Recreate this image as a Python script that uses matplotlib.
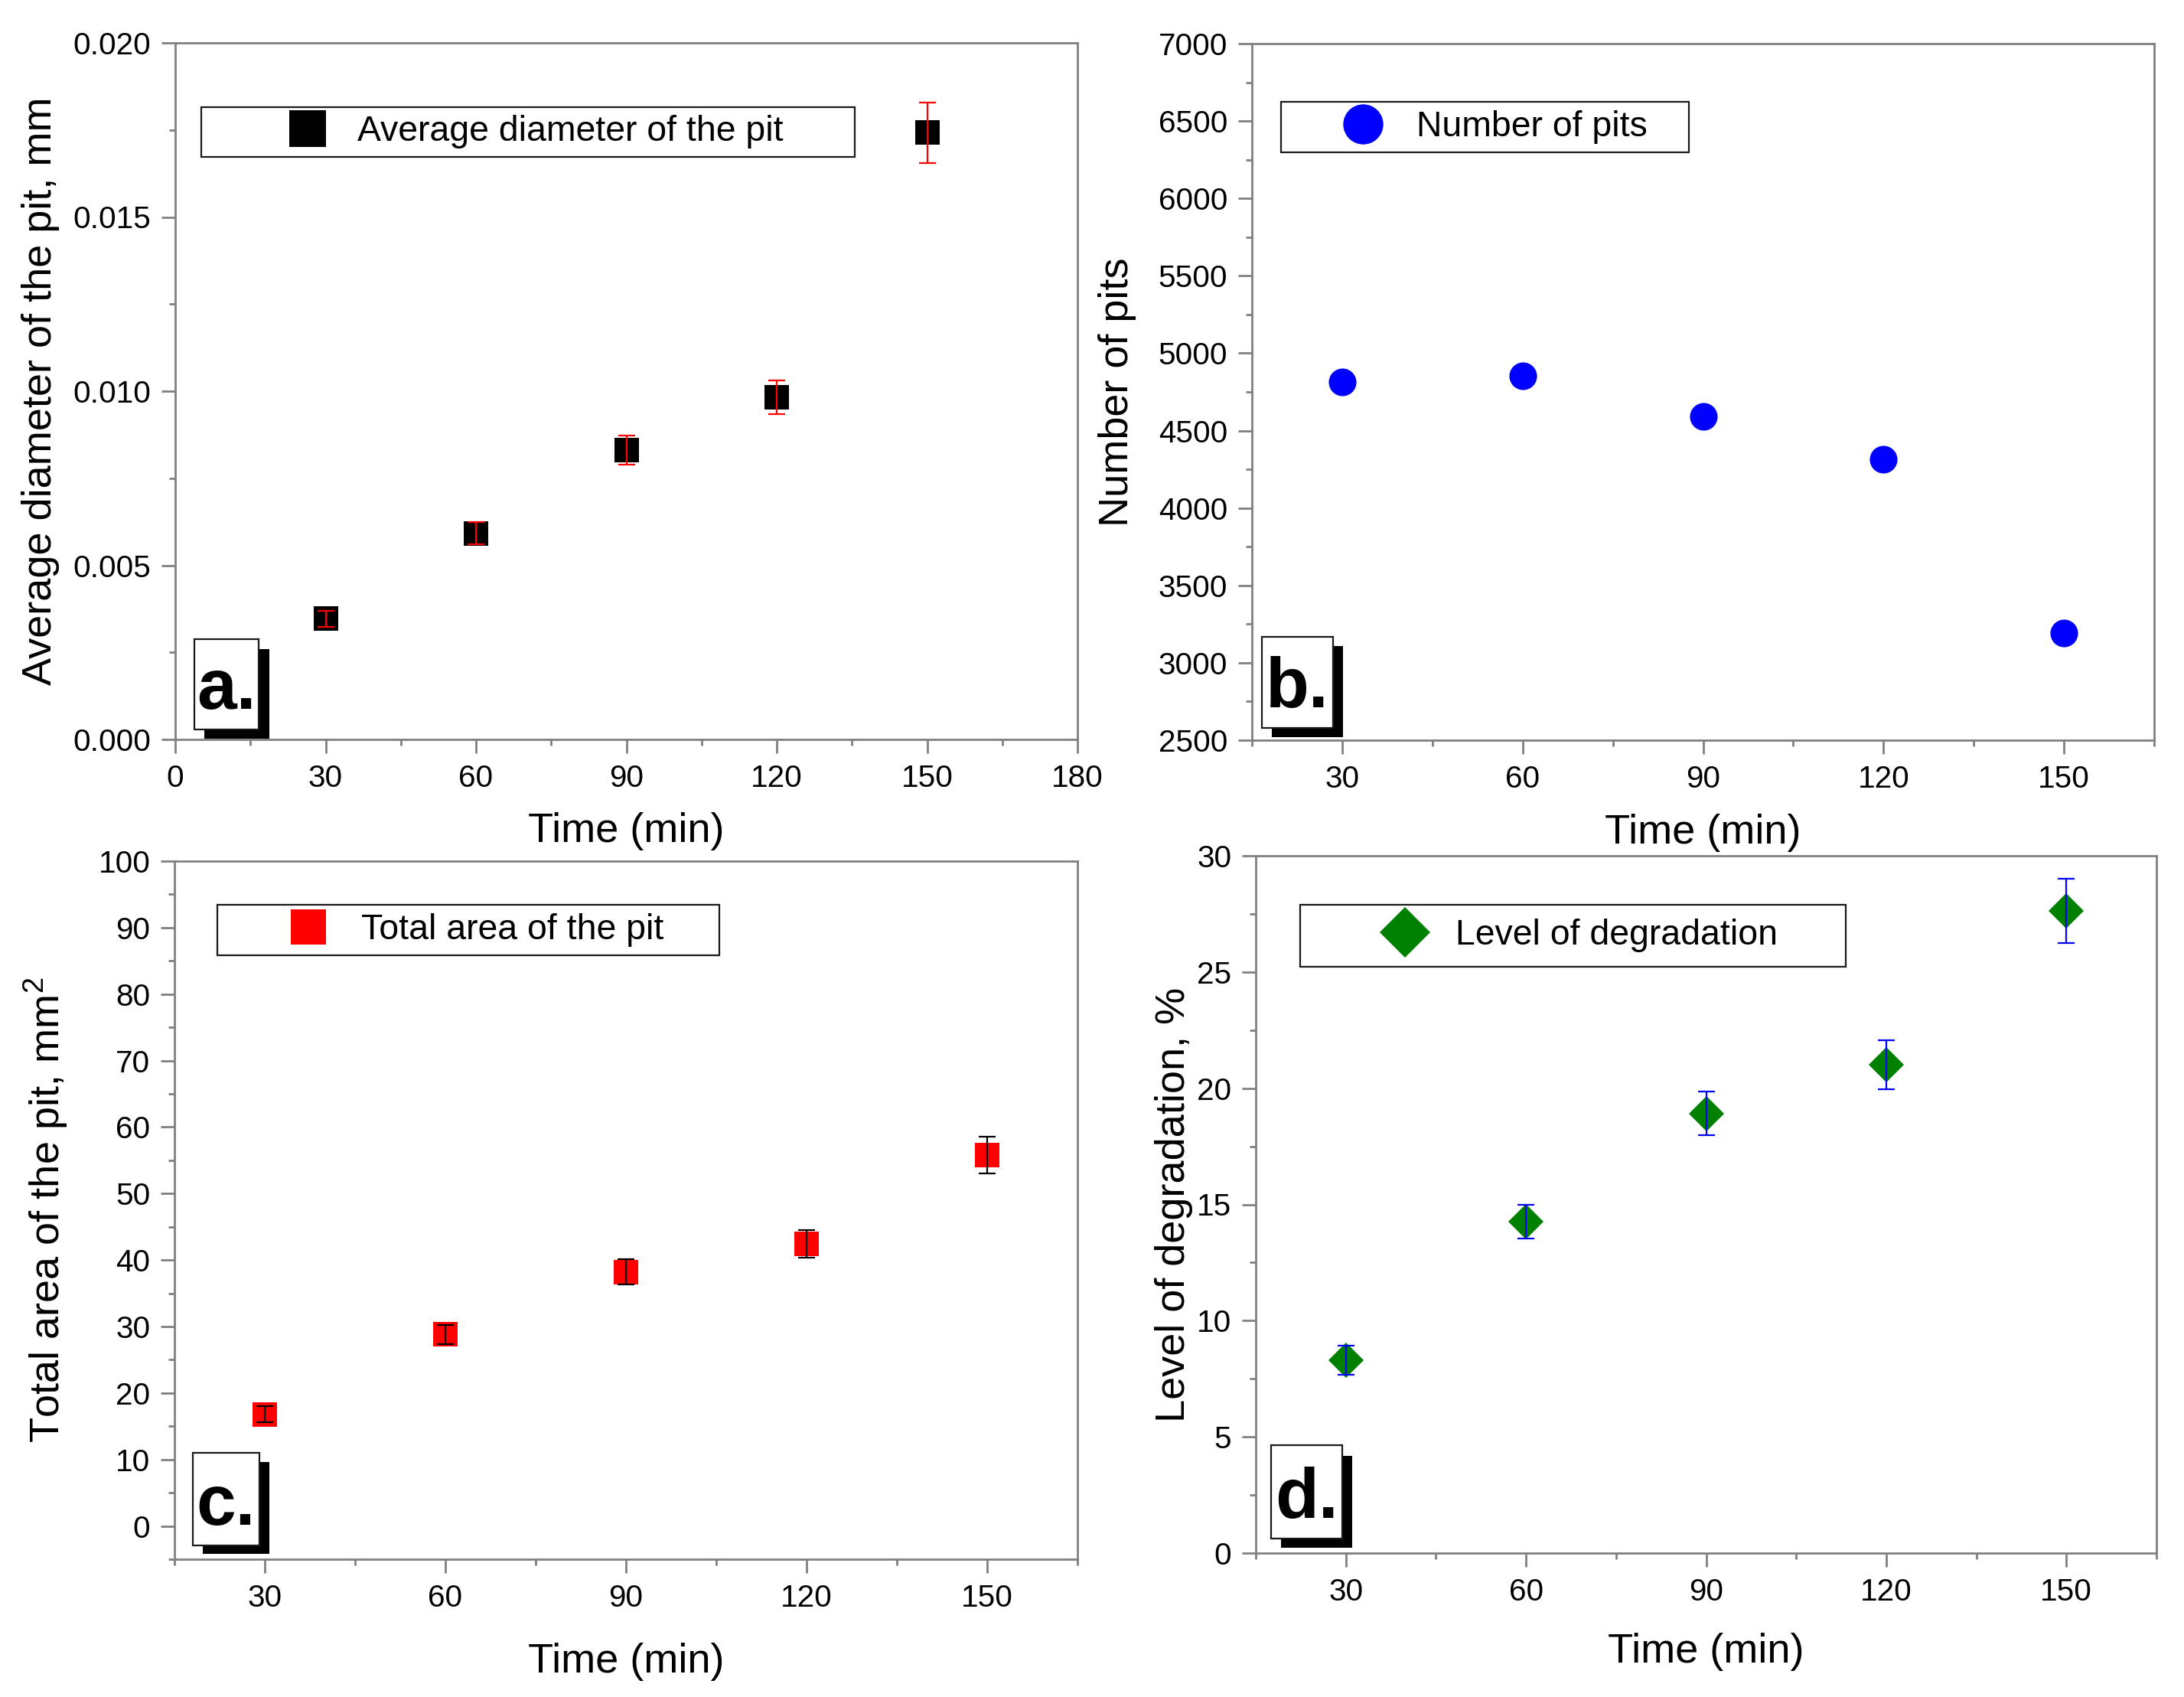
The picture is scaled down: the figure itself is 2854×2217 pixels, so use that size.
import matplotlib
matplotlib.use('Agg')
import matplotlib.pyplot as plt
from matplotlib.ticker import MultipleLocator, FormatStrFormatter
from matplotlib.patches import Rectangle

plt.rcParams['font.family'] = ['Liberation Sans', 'DejaVu Sans']
plt.rcParams['mathtext.fontset'] = 'custom'
plt.rcParams['mathtext.rm'] = 'Liberation Sans'

# ---------------- data ----------------
time_min = [30, 60, 90, 120, 150]

diameter_mm = [0.00347, 0.00592, 0.00831, 0.00982, 0.01742]
diameter_err = [0.00023, 0.00032, 0.00041, 0.00048, 0.00087]

pits_count = [4812, 4854, 4590, 4316, 3194]

area_mm2 = [16.8, 28.8, 38.2, 42.4, 55.8]
area_err = [1.23, 1.48, 1.89, 2.05, 2.79]

degradation_pct = [8.30, 14.25, 18.91, 21.02, 27.63]
degradation_err = [0.62, 0.73, 0.94, 1.05, 1.38]

xlabel_text = 'Time (min)'
ylabels = ['Average diameter of the pit, mm', 'Number of pits',
           'Total area of the pit, mm$^\\mathregular{2}$', 'Level of degradation, %']
legend_labels = ['Average diameter of the pit', 'Number of pits',
                 'Total area of the pit', 'Level of degradation']
panel_letters = ['a.', 'b.', 'c.', 'd.']

# ---------------- layout ----------------
W, H = 2854, 2217
DPI = 200
fig = plt.figure(figsize=(W / DPI, H / DPI), dpi=DPI)
fig.patch.set_facecolor('white')

def rect(l, t, r, b):
    return [l / W, 1 - b / H, (r - l) / W, (b - t) / H]

GRAY = '#808080'

ax_a = fig.add_axes(rect(229, 56, 1408, 966))
ax_b = fig.add_axes(rect(1636, 57, 2815, 967))
ax_c = fig.add_axes(rect(228, 1125, 1408, 2037))
ax_d = fig.add_axes(rect(1641, 1118, 2818, 2029))
axes = [ax_a, ax_b, ax_c, ax_d]

def style(ax):
    for s in ax.spines.values():
        s.set_color(GRAY)
        s.set_linewidth(1.0)
    ax.tick_params(which='major', direction='out', length=6.4, width=1.0,
                   color=GRAY, labelsize=14.6, pad=5, labelcolor='black')
    ax.tick_params(which='minor', direction='out', length=3.0, width=1.0, color=GRAY)

for ax in axes:
    style(ax)

# panel a
ha_, = ax_a.plot(time_min, diameter_mm, 's', color='black', ms=11.8, mew=0, zorder=2)
ax_a.errorbar(time_min, diameter_mm, yerr=diameter_err, fmt='none', ecolor='red',
              elinewidth=0.8, capsize=3.8, capthick=0.8, zorder=3)
ax_a.set_xlim(0, 180)
ax_a.set_ylim(0, 0.020)
ax_a.xaxis.set_major_locator(MultipleLocator(30))
ax_a.xaxis.set_minor_locator(MultipleLocator(15))
ax_a.yaxis.set_major_locator(MultipleLocator(0.005))
ax_a.yaxis.set_minor_locator(MultipleLocator(0.0025))
ax_a.yaxis.set_major_formatter(FormatStrFormatter('%.3f'))

# panel b
hb_, = ax_b.plot(time_min, pits_count, 'o', color='#0000ff', ms=13, mew=0, zorder=2)
ax_b.set_xlim(15, 165)
ax_b.set_ylim(2500, 7000)
ax_b.yaxis.set_major_locator(MultipleLocator(500))
ax_b.yaxis.set_minor_locator(MultipleLocator(250))

# panel c
hc_, = ax_c.plot(time_min, area_mm2, 's', color='#ff0000', ms=11.5, mew=0, zorder=2)
ax_c.errorbar(time_min, area_mm2, yerr=area_err, fmt='none', ecolor='black',
              elinewidth=0.8, capsize=3.8, capthick=0.8, zorder=3)
ax_c.set_xlim(15, 165)
ax_c.set_ylim(-5, 100)
ax_c.yaxis.set_major_locator(MultipleLocator(10))
ax_c.yaxis.set_minor_locator(MultipleLocator(5))

# panel d
hd_, = ax_d.plot(time_min, degradation_pct, 'D', color='#008000', ms=11.5, mew=0, zorder=2)
ax_d.errorbar(time_min, degradation_pct, yerr=degradation_err, fmt='none', ecolor='#0000ff',
              elinewidth=0.8, capsize=3.8, capthick=0.8, zorder=3)
ax_d.set_xlim(15, 165)
ax_d.set_ylim(0, 30)
ax_d.yaxis.set_major_locator(MultipleLocator(5))
ax_d.yaxis.set_minor_locator(MultipleLocator(2.5))

for ax in [ax_b, ax_c, ax_d]:
    ax.xaxis.set_major_locator(MultipleLocator(30))
    ax.xaxis.set_minor_locator(MultipleLocator(15))
    ax.yaxis.set_major_formatter(FormatStrFormatter('%d'))

# axis labels
xlab_y = [-0.104, -0.1055, -0.1195, -0.114]
ylab_x = [-0.128, -0.128, -0.116, -0.070]
for ax, yl, xy, yx in zip(axes, ylabels, xlab_y, ylab_x):
    ax.set_xlabel(xlabel_text, fontsize=19.5)
    ax.set_ylabel(yl, fontsize=19.5)
    ax.xaxis.set_label_coords(0.5, xy)
    ax.yaxis.set_label_coords(yx, 0.5)

# legends
FS = 16.7
FS_PX = FS * DPI / 72

def add_legend(ax, handle, label, box, cx, tx):
    l, t, r, b = box
    row_px = 1.0 * FS_PX
    bp = (b - t - row_px) / 2
    L = 2 * (cx - l - bp) / FS_PX
    htp = (tx - l - bp - L * FS_PX) / FS_PX
    leg = ax.legend([handle], [label], loc='upper left',
                    bbox_to_anchor=(l / W, 1 - b / H, (r - l) / W, (b - t) / H),
                    bbox_transform=fig.transFigure, mode='expand', borderaxespad=0,
                    borderpad=bp / FS_PX, handlelength=L, handletextpad=htp,
                    markerscale=1.45, fontsize=FS, fancybox=False, framealpha=1,
                    edgecolor='#1a1a1a', numpoints=1)
    leg.get_frame().set_linewidth(0.8)

add_legend(ax_a, ha_, legend_labels[0], (263, 140, 1117, 207), 402, 467)
add_legend(ax_b, hb_, legend_labels[1], (1674, 133, 2207, 201), 1781, 1851)
add_legend(ax_c, hc_, legend_labels[2], (284, 1182, 940, 1250), 403, 472)
add_legend(ax_d, hd_, legend_labels[3], (1699, 1182, 2412, 1265), 1836, 1902)

# panel letter boxes with shadow
label_boxes = [
    ((254, 835, 338, 953), (267, 848, 352, 965)),
    ((1649, 832, 1742, 951), (1662, 844, 1755, 963)),
    ((252, 1898, 339, 2019), (265, 1910, 352, 2030)),
    ((1661, 1888, 1754, 2010), (1674, 1902, 1767, 2022)),
]

def frect(box, **kw):
    l, t, r, b = box
    return Rectangle((l / W, 1 - b / H), (r - l) / W, (b - t) / H,
                     transform=fig.transFigure, **kw)

for letter, (white, shadow) in zip(panel_letters, label_boxes):
    fig.add_artist(frect(shadow, facecolor='black', edgecolor='none', zorder=5))
    fig.add_artist(frect(white, facecolor='white', edgecolor='#1a1a1a', linewidth=0.8, zorder=6))
    l, t, r, b = white
    fig.text((l + r) / 2 / W, 1 - (b - 27) / H, letter, ha='center', va='baseline',
             fontsize=33.5, fontweight='bold', color='black', zorder=7)

fig.savefig('out.png', dpi=DPI, facecolor='white')
